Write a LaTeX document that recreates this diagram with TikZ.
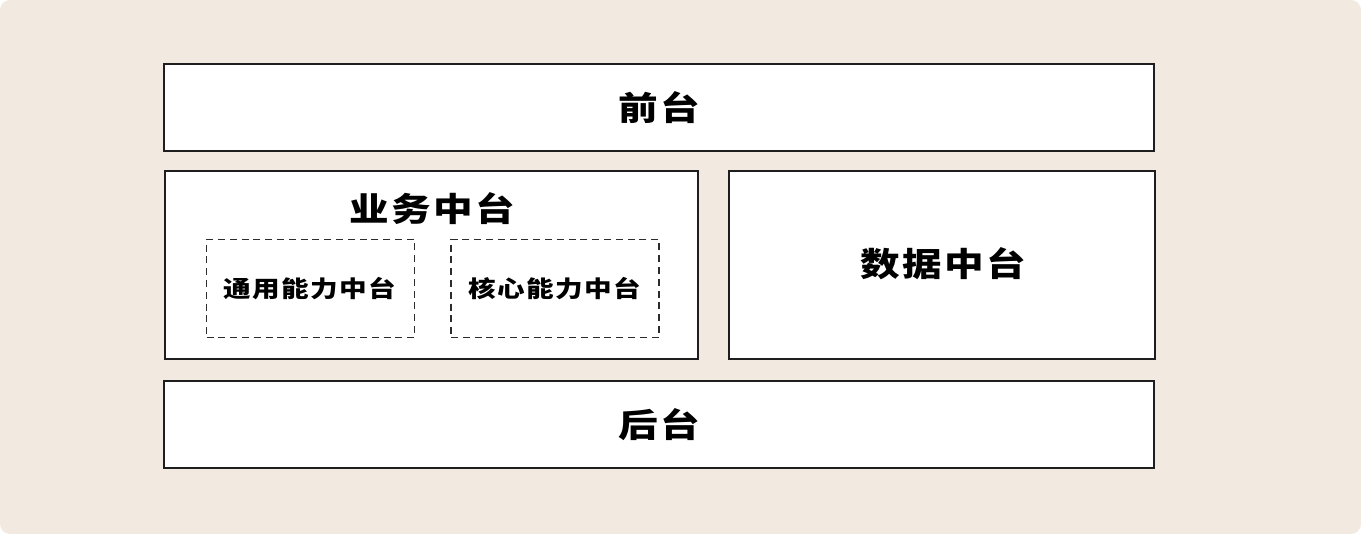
\documentclass[tikz,border=0pt]{standalone}
\usepackage{fontspec}
\newfontfamily\cjkbig{Noto Sans CJK SC}[FakeStretch=1.2, LetterSpace=7]
\newfontfamily\cjksmall{Noto Sans CJK SC}[FakeStretch=1.2, LetterSpace=6.5]
\definecolor{bgbeige}{HTML}{F2E9E1}
\definecolor{edge}{HTML}{1E1E1E}
\definecolor{dashedge}{HTML}{2C2C2C}
\tikzset{
  layerbox/.style={draw=edge, line width=1.3pt, fill=white, inner sep=0pt, anchor=center},
  subbox/.style={draw=dashedge, line width=1.05pt, dash pattern=on 7pt off 4.8pt, fill=white, inner sep=0pt, anchor=center},
  bigtext/.style={font=\cjkbig\bfseries\fontsize{33}{36}\selectfont, inner sep=0pt},
  smalltext/.style={font=\cjksmall\bfseries\fontsize{23}{26}\selectfont, inner sep=0pt}
}
\begin{document}
\begin{tikzpicture}[x=1pt,y=-1pt]
\useasboundingbox (0,0) rectangle (1361,534);
\fill[bgbeige, rounded corners=10pt] (0,0) rectangle (1361,534);
% front
\node[layerbox, minimum width=990pt, minimum height=87pt] (front) at (659,107.5) {};
\node[bigtext] (frontlabel) at (659,108) {前台};
% business middle
\node[layerbox, minimum width=533pt, minimum height=188pt] (biz) at (431.5,265) {};
\node[bigtext] (bizlabel) at (432,209) {业务中台};
\node[subbox, minimum width=208pt, minimum height=98pt] (common) at (310.5,288.5) {};
\node[smalltext] (commonlabel) at (310,289) {通用能力中台};
\node[subbox, minimum width=208pt, minimum height=98pt] (core) at (555,288.5) {};
\node[smalltext] (corelabel) at (555,289) {核心能力中台};
% data middle
\node[layerbox, minimum width=426pt, minimum height=188pt] (data) at (942,265) {};
\node[bigtext] (datalabel) at (943,264) {数据中台};
% back
\node[layerbox, minimum width=990pt, minimum height=87pt] (back) at (659,424.5) {};
\node[bigtext] (backlabel) at (659,425) {后台};
\end{tikzpicture}
\end{document}
